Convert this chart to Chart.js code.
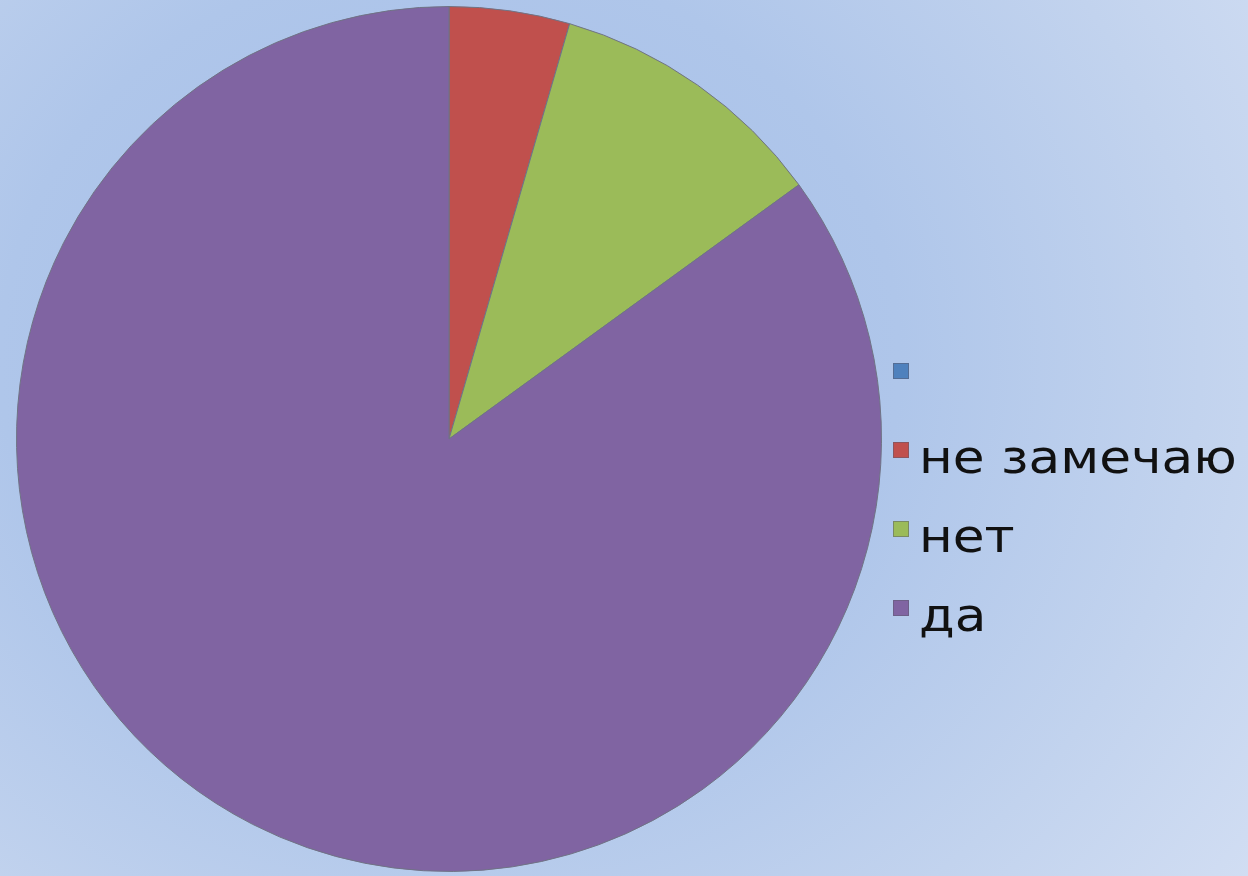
<!DOCTYPE html>
<html>
<head>
<meta charset="utf-8">
<script src="https://cdn.jsdelivr.net/npm/chart.js@4/dist/chart.umd.min.js"></script>
<style>
  html, body { margin: 0; padding: 0; }
  body {
    width: 1248px; height: 876px; overflow: hidden;
    background: radial-gradient(ellipse 1000px 900px at 450px 360px, #a4bde8 0%, #afc6ea 45%, #c2d3ee 75%, #d2def3 100%);
  }
  #wrap { position: relative; width: 1248px; height: 876px; }
  #legend { position: absolute; left: 0; top: 0; }
  .item { position: absolute; left: 893px; }
  .box { position: absolute; left: 0; top: 0; width: 16px; height: 16px; box-sizing: border-box; border: 1px solid rgba(90,90,110,0.5); }
  .txt {
    position: absolute; left: 26px; top: -9px; white-space: nowrap;
    font-family: "DejaVu Sans"; font-size: 47px; line-height: 47px; color: #111;
    transform: scaleX(1.1); transform-origin: left top;
  }
</style>
</head>
<body>
<div id="wrap"><canvas id="chart" width="1248" height="876"></canvas><div id="legend"></div></div>
<script>
// категории и значения (доли в процентах)
const labels = ["", "не замечаю", "нет", "да"];
const values = [0, 4.5, 10.5, 85];
const colors = ["#4F81BD", "#C0504D", "#9BBB59", "#8064A2"];

let ctx = document.getElementById("chart");

let chart = new Chart(ctx, {
    type: "pie",
    data: {
        labels: labels,
        datasets: [{
            data: values,
            backgroundColor: colors,
            borderColor: "#6f7384",
            borderWidth: 1
        }]
    },
    options: {
        responsive: false,
        animation: false,
        layout: {
            // пирог слева, справа место под легенду
            padding: { left: 16, top: 6, bottom: 4, right: 366 }
        },
        plugins: {
            tooltip: { enabled: false },
            legend: { display: false }
        }
    }
});

// легенда html-ом, цвета и подписи из тех же массивов
let leg = document.getElementById("legend");
chart.data.labels.forEach(function(lbl, i) {
    let it = document.createElement("div");
    it.className = "item";
    it.style.top = (363 + i * 79) + "px";
    let b = document.createElement("div");
    b.className = "box";
    b.style.background = chart.data.datasets[0].backgroundColor[i];
    let t = document.createElement("span");
    t.className = "txt";
    t.textContent = lbl;
    it.appendChild(b);
    it.appendChild(t);
    leg.appendChild(it);
});
</script>
</body>
</html>
